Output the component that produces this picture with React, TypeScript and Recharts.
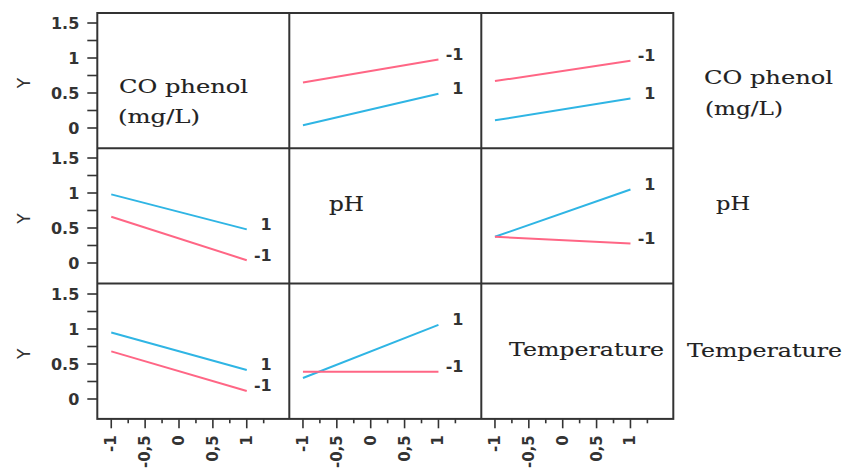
import React from 'react';
import { LineChart, Line, XAxis, YAxis, LabelList } from 'recharts';

// Factor names (row / column headers of the interaction matrix)
const factorTitles = [['CO phenol', '(mg/L)'], ['pH'], ['Temperature']];

// Coded factor levels on the horizontal axis
const levels = [-1, 1];

// Axis ticks (majors are labelled, the rest are minor marks)
const xTicks = [-1, -0.75, -0.5, -0.25, 0, 0.25, 0.5, 0.75, 1, 1.25];
const xTickLabels: Record<string, string> = { '-1': '-1', '-0.5': '-0,5', '0': '0', '0.5': '0,5', '1': '1' };
const yTicks = [0, 0.25, 0.5, 0.75, 1, 1.25, 1.5];
const yTickLabels: Record<string, string> = { '0': '0', '0.5': '0.5', '1': '1', '1.5': '1.5' };

// Mean response Y at x = -1 and x = +1, per panel, for trace level +1 (blue) and -1 (pink)
const row1col2High = [0.04, 0.49];
const row1col2Low = [0.65, 0.98];
const row1col3High = [0.11, 0.42];
const row1col3Low = [0.67, 0.96];
const row2col1High = [0.98, 0.48];
const row2col1Low = [0.66, 0.04];
const row2col3High = [0.375, 1.05];
const row2col3Low = [0.375, 0.28];
const row3col1High = [0.95, 0.415];
const row3col1Low = [0.68, 0.115];
const row3col2High = [0.3, 1.06];
const row3col2Low = [0.39, 0.39];

const panels = [
  { row: 0, col: 1, high: row1col2High, low: row1col2Low },
  { row: 0, col: 2, high: row1col3High, low: row1col3Low },
  { row: 1, col: 0, high: row2col1High, low: row2col1Low },
  { row: 1, col: 2, high: row2col3High, low: row2col3Low },
  { row: 2, col: 0, high: row3col1High, low: row3col1Low },
  { row: 2, col: 1, high: row3col2High, low: row3col2Low },
  { row: 0, col: 0, high: null, low: null },
  { row: 1, col: 1, high: null, low: null },
  { row: 2, col: 2, high: null, low: null },
];

const X_DOMAIN: [number, number] = [-1.206, 1.628];
const Y_DOMAIN: [number, number] = [-0.29, 1.643];

const LEFT = 97.3;
const TOP = 13;
const CELL_W = 192;
const CELL_H = 135.3;
const X_AXIS_H = 50;

const BLUE = '#2fb5e4';
const PINK = '#ff6685';
const INK = '#333';
const TICK_FONT = '"DejaVu Sans", sans-serif';
const TITLE_FONT = '"DejaVu Serif", serif';

const YTick = (props: any) => {
  const { x, y, payload } = props;
  const label = yTickLabels[String(payload.value)];
  if (label === undefined) return <g />;
  return (
    <text x={x} y={y} dy="0.36em" textAnchor="end" fontFamily={TICK_FONT} fontWeight="bold" fontSize={16} fill={INK}>
      {label}
    </text>
  );
};

const XTick = (props: any) => {
  const { x, y, payload } = props;
  const label = xTickLabels[String(payload.value)];
  const major = label !== undefined;
  return (
    <g>
      <line x1={x} y1={y} x2={x} y2={y + (major ? 9 : 4)} stroke={INK} strokeWidth={1.6} />
      {major && (
        <text
          x={x}
          y={y + 16}
          transform={`rotate(-90, ${x}, ${y + 16})`}
          textAnchor="end"
          dominantBaseline="central"
          fontFamily={TICK_FONT}
          fontWeight="bold"
          fontSize={15}
          fill={INK}
        >
          {label}
        </text>
      )}
    </g>
  );
};

const endLabel = (text: string) => (props: any) => {
  const { x, y, index } = props;
  if (index !== levels.length - 1) return <g />;
  return (
    <text x={x + 25} y={y - 5} textAnchor="end" dominantBaseline="central" fontFamily={TICK_FONT} fontWeight="bold" fontSize={16} fill={INK}>
      {text}
    </text>
  );
};

const Panel = ({ row, col, high, low }: any) => {
  const yAxisW = col === 0 ? LEFT : 0;
  const width = CELL_W + yAxisW;
  const height = CELL_H + (row === 2 ? X_AXIS_H : 0);
  const left = col === 0 ? 0 : LEFT + col * CELL_W;
  const top = TOP + row * CELL_H;
  const data = high ? levels.map((x, i) => ({ x, high: high[i], low: low[i] })) : levels.map((x) => ({ x }));
  return (
    <div style={{ position: 'absolute', left, top, width, height }}>
      <LineChart width={width} height={height} data={data} margin={{ top: 0, right: 0, bottom: 0, left: 0 }}>
        <XAxis
          type="number"
          dataKey="x"
          domain={X_DOMAIN}
          ticks={xTicks}
          interval={0}
          allowDataOverflow
          hide={row !== 2}
          height={X_AXIS_H}
          axisLine={false}
          tickLine={false}
          tickSize={0}
          tickMargin={0}
          tick={<XTick />}
        />
        <YAxis
          type="number"
          domain={Y_DOMAIN}
          ticks={yTicks}
          interval={0}
          allowDataOverflow
          hide={col !== 0}
          width={yAxisW || 1}
          axisLine={false}
          tickSize={10}
          tickMargin={8}
          tickLine={{ stroke: INK, strokeWidth: 1.6 }}
          tick={<YTick />}
        />
        {high && (
          <Line type="linear" dataKey="high" stroke={BLUE} strokeWidth={2} dot={false} isAnimationActive={false}>
            <LabelList dataKey="high" content={endLabel('1')} />
          </Line>
        )}
        {low && (
          <Line type="linear" dataKey="low" stroke={PINK} strokeWidth={2} dot={false} isAnimationActive={false}>
            <LabelList dataKey="low" content={endLabel('-1')} />
          </Line>
        )}
      </LineChart>
    </div>
  );
};

const titleStyle = {
  fontFamily: TITLE_FONT,
  fontSize: 18,
  fill: '#222',
  stroke: '#222',
  strokeWidth: 0.15,
};

const Title = ({ x, y, len, size, children }: any) => (
  <text x={x} y={y} textLength={len} lengthAdjust="spacingAndGlyphs" style={{ ...titleStyle, fontSize: size || 18 }}>
    {children}
  </text>
);

export default function App() {
  const right = LEFT + 3 * CELL_W;
  const bottom = TOP + 3 * CELL_H;
  return (
    <div style={{ position: 'absolute', left: 0, top: 0, width: 845, height: 469, background: '#fff', overflow: 'hidden' }}>
      {panels.map((p) => (
        <Panel key={`${p.row}-${p.col}`} {...p} />
      ))}
      <svg width={845} height={469} style={{ position: 'absolute', left: 0, top: 0, pointerEvents: 'none' }}>
        {/* matrix frame */}
        <rect x={LEFT} y={TOP} width={3 * CELL_W} height={3 * CELL_H} fill="none" stroke={INK} strokeWidth={2} />
        {[1, 2].map((i) => (
          <line key={`v${i}`} x1={LEFT + i * CELL_W} y1={TOP} x2={LEFT + i * CELL_W} y2={bottom} stroke={INK} strokeWidth={2} />
        ))}
        {[1, 2].map((i) => (
          <line key={`h${i}`} x1={LEFT} y1={TOP + i * CELL_H} x2={right} y2={TOP + i * CELL_H} stroke={INK} strokeWidth={2} />
        ))}
        {/* Y axis titles */}
        {[0, 1, 2].map((r) => {
          const yc = TOP + r * CELL_H + CELL_H / 2 + 2.5;
          return (
            <text
              key={`y${r}`}
              x={24}
              y={yc}
              transform={`rotate(-90, 24, ${yc})`}
              textAnchor="middle"
              dominantBaseline="central"
              fontFamily={TICK_FONT}
              fontSize={17}
              fill={INK}
            >
              Y
            </text>
          );
        })}
        {/* factor names on the diagonal */}
        <Title x={119} y={93} len={129}>{factorTitles[0][0]}</Title>
        <Title x={118} y={123} len={82}>{factorTitles[0][1]}</Title>
        <Title x={329} y={211} len={35} size={20}>{factorTitles[1][0]}</Title>
        <Title x={509} y={356} len={155}>{factorTitles[2][0]}</Title>
        {/* factor names beside each row */}
        <Title x={704} y={84} len={129}>{factorTitles[0][0]}</Title>
        <Title x={705} y={115} len={78}>{factorTitles[0][1]}</Title>
        <Title x={716} y={210} len={34} size={19}>{factorTitles[1][0]}</Title>
        <Title x={687} y={357} len={155}>{factorTitles[2][0]}</Title>
      </svg>
    </div>
  );
}
